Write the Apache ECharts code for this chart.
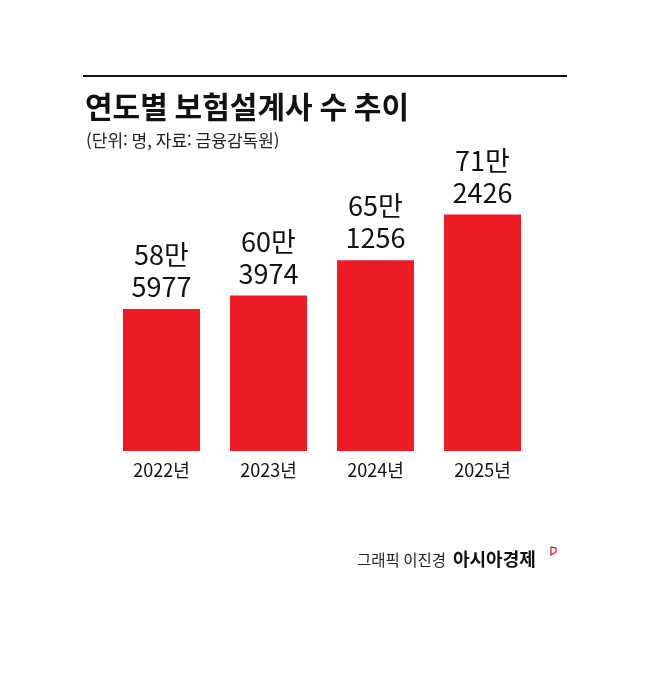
<!DOCTYPE html>
<html lang="ko">
<head>
<meta charset="UTF-8">
<title>연도별 보험설계사 수 추이</title>
<script src="https://cdn.jsdelivr.net/npm/echarts@6/dist/echarts.min.js"></script>
<style>
  html, body { margin: 0; padding: 0; background: #fff; }
  #chart { width: 658px; height: 673px; }
</style>
</head>
<body>
<div id="chart"></div>
<script>
  // 데이터
  const years = ['2022년', '2023년', '2024년', '2025년'];
  const counts = [585977, 603974, 651256, 712426];

  const FONT = '"Noto Sans CJK KR", "Noto Sans", sans-serif';
  const RED = '#ed1c24';

  // 58만\n5977 형식
  function fmt(v) {
    const man = Math.floor(v / 10000);
    const rest = v % 10000;
    return man + '만\n' + rest;
  }

  const chart = echarts.init(document.getElementById('chart'));
  chart.setOption({
    backgroundColor: '#fff',
    animation: false,
    title: [
      {
        text: '연도별 보험설계사 수 추이',
        left: 80, top: 87,
        textStyle: { fontFamily: FONT, fontSize: 30, fontWeight: 'bold', color: '#111' }
      },
      {
        text: '(단위: 명, 자료: 금융감독원)',
        left: 81, top: 127,
        textStyle: { fontFamily: FONT, fontSize: 17, fontWeight: 'normal', color: '#222' }
      }
    ],
    grid: { left: 108, right: 122, top: 149, bottom: 222, containLabel: false },
    xAxis: {
      type: 'category',
      data: years,
      axisLine: { show: false },
      axisTick: { show: false },
      axisLabel: { fontFamily: FONT, fontSize: 18, color: '#111', margin: 10 }
    },
    yAxis: {
      type: 'value',
      min: 396000,
      max: 800000,
      show: false,
      splitLine: { show: false }
    },
    series: [{
      type: 'bar',
      data: counts,
      barWidth: 77,
      itemStyle: { color: RED },
      label: {
        show: true,
        position: 'top',
        distance: 6,
        fontFamily: FONT,
        fontSize: 27,
        lineHeight: 32,
        color: '#111',
        formatter: p => fmt(p.value)
      }
    }],
    graphic: [
      {
        type: 'line',
        shape: { x1: 83, y1: 76, x2: 567, y2: 76 },
        style: { stroke: '#111', lineWidth: 2 }
      },
      {
        type: 'text',
        left: 357, top: 552,
        style: { text: '그래픽 이진경', font: '15.5px ' + FONT, fill: '#222' }
      },
      {
        type: 'text',
        left: 453, top: 550,
        style: { text: '아시아경제', font: 'bold 18px ' + FONT, fill: '#111' }
      },
      {
        type: 'polyline',
        shape: { points: [[551, 547], [551, 555], [556, 552], [556, 548], [551, 547]] },
        style: { stroke: RED, lineWidth: 1.3, fill: 'none' }
      }
    ]
  });
</script>
</body>
</html>
